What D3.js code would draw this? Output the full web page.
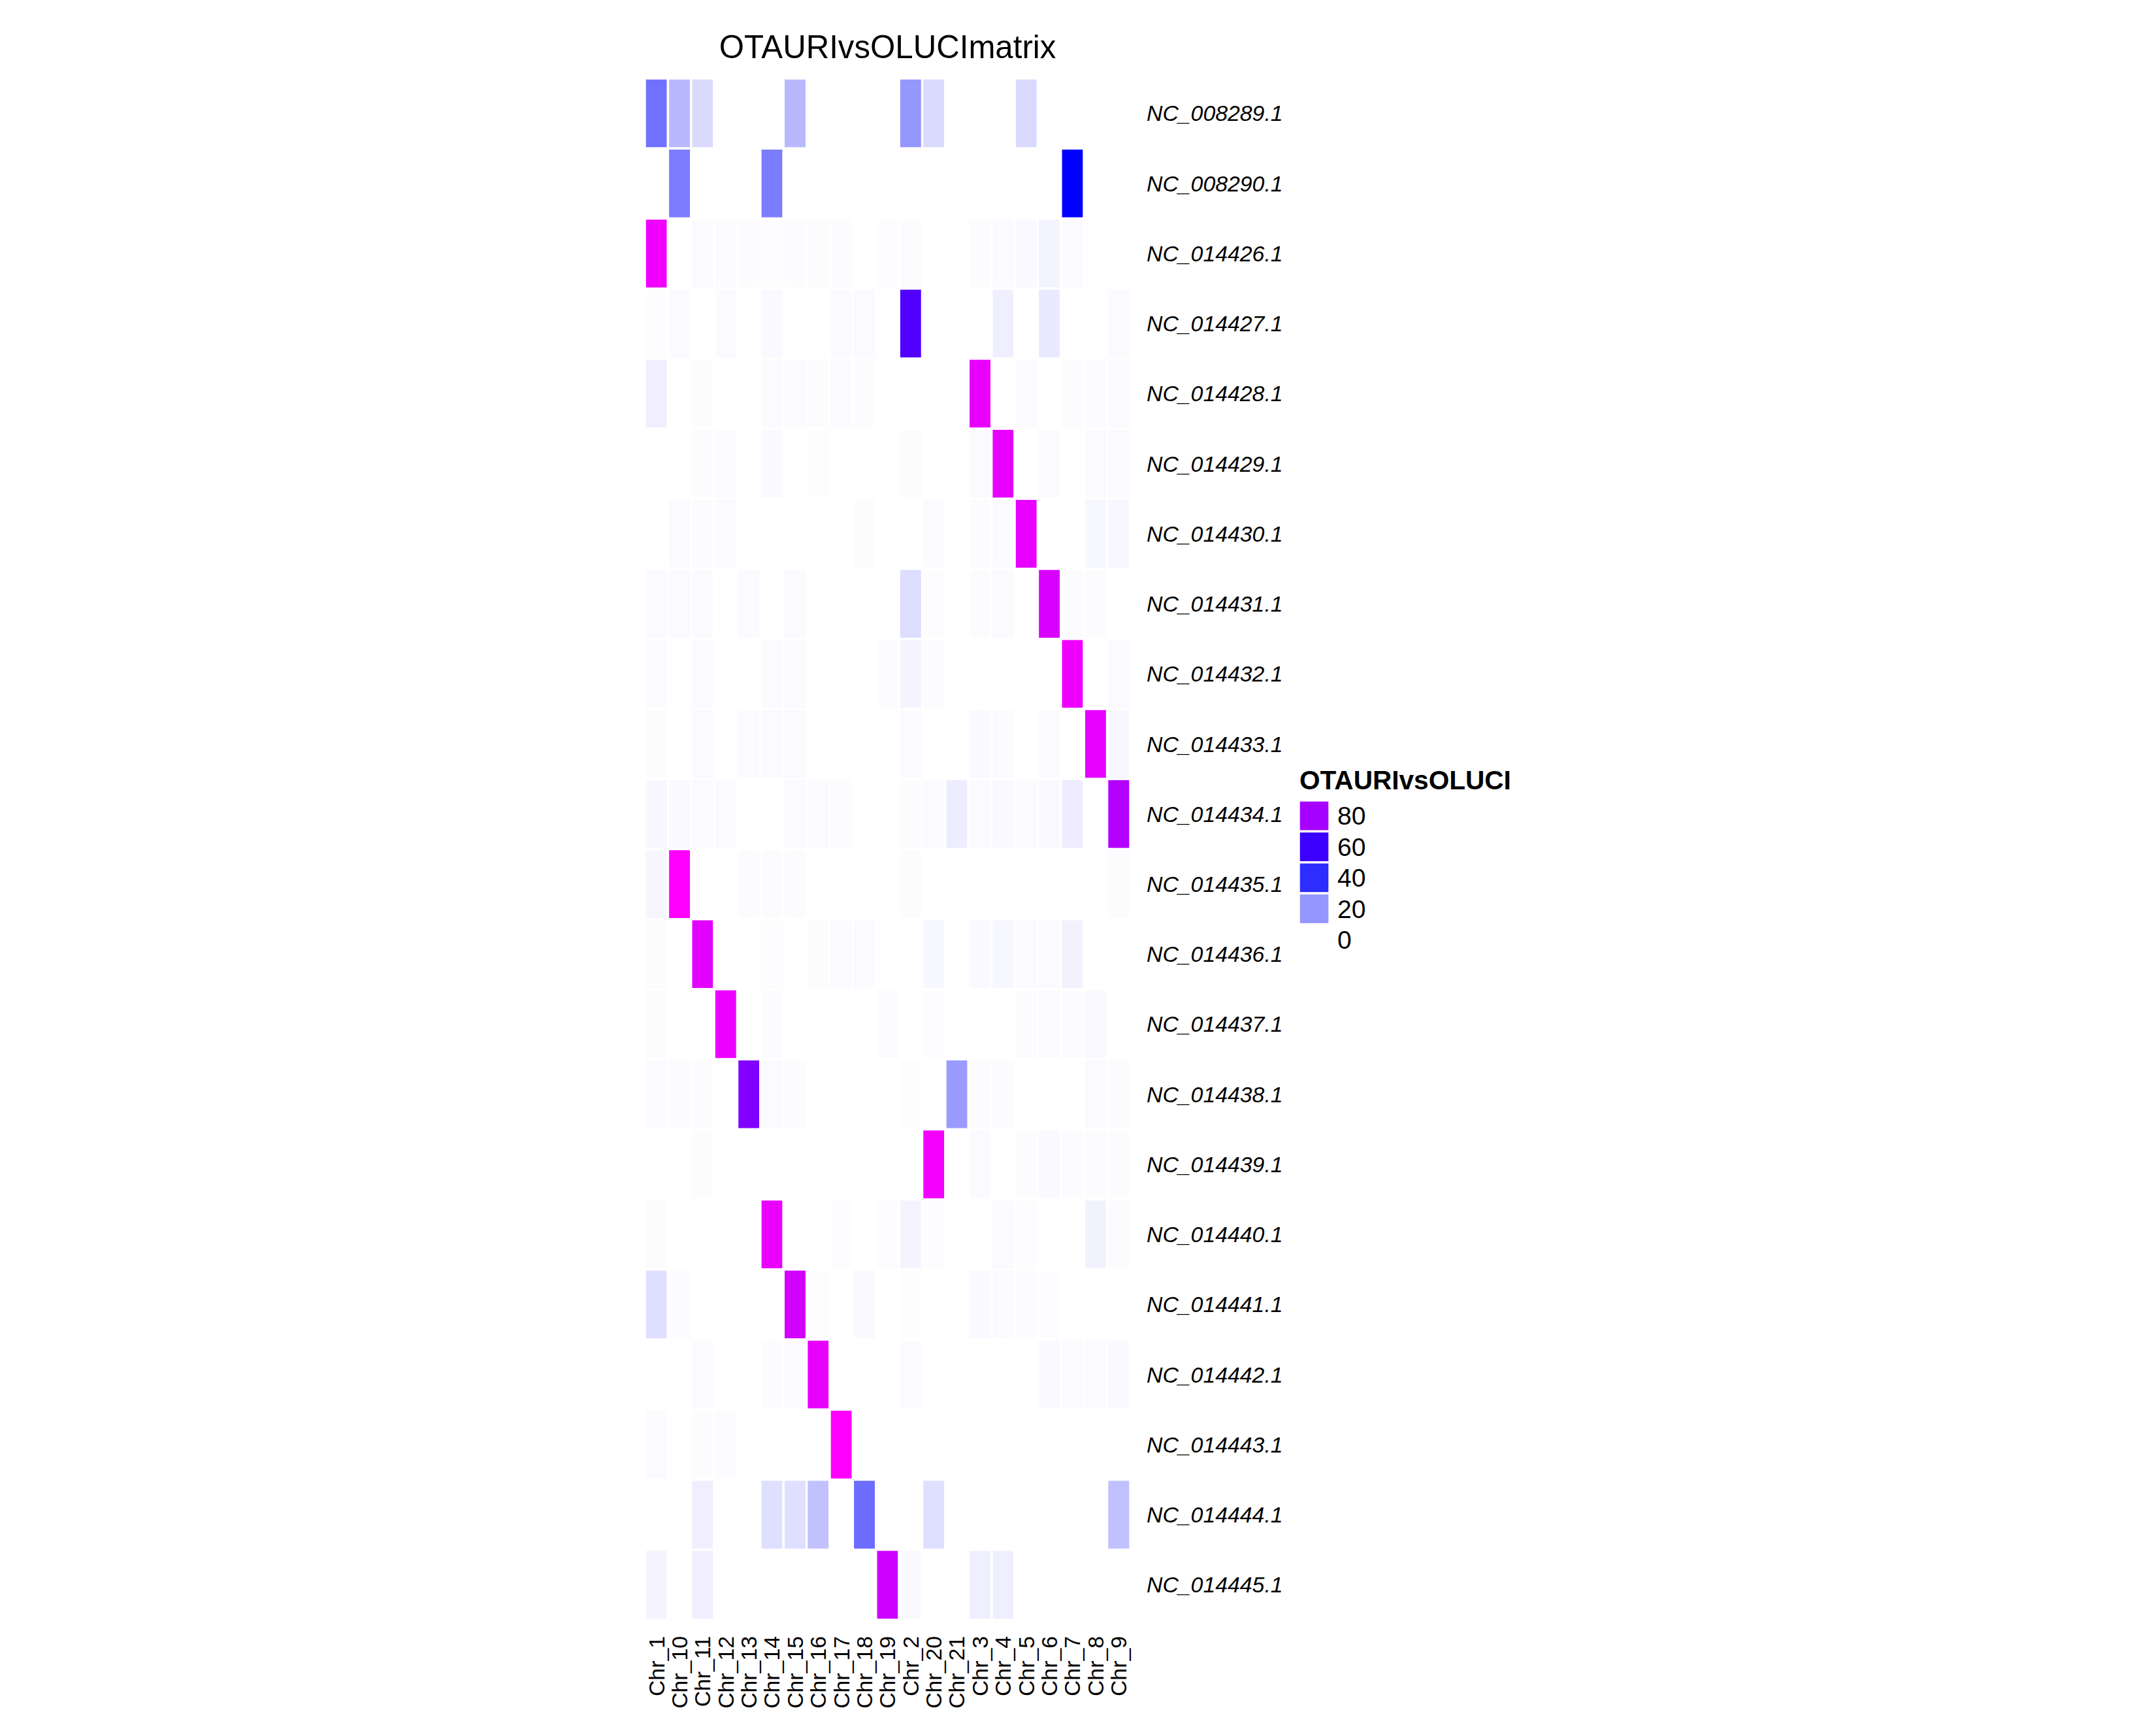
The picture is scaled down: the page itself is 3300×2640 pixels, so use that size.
<!DOCTYPE html>
<html>
<head>
<meta charset="utf-8">
<script src="https://cdn.jsdelivr.net/npm/d3@7"></script>
<style>
html,body{margin:0;padding:0;background:#fff;}
svg{display:block;}
</style>
</head>
<body>
<script>
// ---- data ----
const rows = ["NC_008289.1","NC_008290.1","NC_014426.1","NC_014427.1","NC_014428.1","NC_014429.1",
  "NC_014430.1","NC_014431.1","NC_014432.1","NC_014433.1","NC_014434.1","NC_014435.1","NC_014436.1",
  "NC_014437.1","NC_014438.1","NC_014439.1","NC_014440.1","NC_014441.1","NC_014442.1","NC_014443.1",
  "NC_014444.1","NC_014445.1"];
const cols = ["Chr_1","Chr_10","Chr_11","Chr_12","Chr_13","Chr_14","Chr_15","Chr_16","Chr_17","Chr_18",
  "Chr_19","Chr_2","Chr_20","Chr_21","Chr_3","Chr_4","Chr_5","Chr_6","Chr_7","Chr_8","Chr_9"];
// one array per row (NC_...), one value per column (Chr_...)
const values = [
  [27,13.5,7,0,0,0,13.5,0,0,0,0,20,7,0,0,0,7,0,0,0,0],
  [0,25,0,0,0,25,0,0,0,0,0,0,0,0,0,0,0,0,48.5,0,0],
  [94.5,0,1,0.5,0.5,0.3,0.5,0.5,0.5,0,0.3,0.5,0,0,0.5,0.8,1.2,2,0.8,0,0],
  [0.3,1,0,0.8,0,1.2,0,0,1,1,0,64,0,0,0,3,0,4,0,0,1],
  [3,0,0.5,0,0,0.8,1,0.5,0.8,0.6,0,0,0,0,92.5,0,0.8,0,0.5,0.5,0.8],
  [0,0,0.5,1,0,1.2,0,0.3,0,0,0,0.5,0,0,1,92.5,0,0.8,0,0.8,1],
  [0,1,0.5,1,0,0,0,0,0,0.5,0,0,0.8,0,0.5,0.8,92.5,0,0,1.5,1.5],
  [1,0.8,0.8,0,0.8,0,1,0,0,0,0,6.5,0.3,0,0.5,1,0,89.5,0.5,0.5,0],
  [0.8,0,1,0,0,0.8,1,0,0,0,0.5,2,0.5,0,0,0,0,0,94,0,1],
  [0.5,0,1,0,0.8,1,1,0,0,0,0,0.8,0,0,1.2,0.8,0,1,0,92.5,1.5],
  [1.5,1.2,1,0.8,0,0,1,0.8,0.6,0,0,0.6,1,3.5,1,1.2,1,1.2,3.5,0,82.5],
  [1.8,97,0,0,0.5,0.5,0.5,0,0,0,0,0.5,0,0,0,0,0,0,0,0,0.5],
  [0.5,0,91.5,0,0,0.4,0,0.6,0.8,0.8,0,0,1.5,0,1.2,1.5,0.8,0.8,2.5,0,0],
  [0.5,0,0,93.3,0,0.5,0,0,0,0,0.5,0,0.3,0,0,0,0.6,1,0.6,1.2,0],
  [1,0.6,0.6,0,73,1,0.6,0,0,0,0,0.4,0,19,0.5,0.5,0,0,0,1,0.6],
  [0,0,0.6,0,0,0,0,0,0,0,0,0,95,0,1,0,0.5,1.2,0.6,0.5,0.6],
  [0.6,0,0,0,0,93,0,0,0.4,0,0.4,2,0.3,0,0,1,0.3,0,0,2.5,0.5],
  [6,0.5,0,0,0,0,88.3,0.4,0,1.2,0,0.3,0,0,1.2,0.8,0.5,0.3,0,0,0],
  [0,0,1,0,0,0.5,1,92.6,0,0,0,0.8,0,0,0,0,0,1.2,1,1,1.2],
  [0.8,0,0.6,0.6,0,0,0,0,97,0,0,0,0,0,0,0,0,0,0,0,0],
  [0,0,3,0,0,6,6,11.7,0,28,0,0,6,0,0,0,0,0,0,0,11.7],
  [2,0,3,0,0,0,0,0,0,0,87.5,1.2,0,0,3,3,0,0,0,0,0]
];
const legendBreaks = [80,60,40,20,0];
const chartTitle = "OTAURIvsOLUCImatrix";
const legendTitle = "OTAURIvsOLUCI";

// ---- layout ----
const W = 3300, H = 2640;
const FONT = "'Liberation Sans', Arial, Helvetica, sans-serif";
const grid = {x0: 987, x1: 1730, y0: 120, y1: 2479};
const AXIS_FS = 33.8;

const svg = d3.select("body").append("svg")
  .attr("width", W).attr("height", H)
  .attr("viewBox", `0 0 ${W} ${H}`);
svg.append("rect").attr("width", W).attr("height", H).attr("fill", "#fff");

const x = d3.scaleBand().domain(cols).range([grid.x0, grid.x1]).padding(0);
const y = d3.scaleBand().domain(rows).range([grid.y0, grid.y1]).padding(0);
const color = d3.scaleLinear()
  .domain([0, 48.5, 97])
  .range(["#ffffff", "#0000ff", "#ff00ff"])
  .interpolate(d3.interpolateRgb)
  .clamp(true);

const cells = [];
rows.forEach((r, i) => cols.forEach((c, j) => cells.push({r, c, v: values[i][j]})));

svg.append("g").selectAll("rect").data(cells).join("rect")
  .attr("x", d => x(d.c))
  .attr("y", d => y(d.r))
  .attr("width", x.bandwidth())
  .attr("height", y.bandwidth())
  .attr("fill", d => color(d.v))
  .attr("stroke", "#fff")
  .attr("stroke-width", 3.4);

// title
svg.append("text")
  .attr("x", (grid.x0 + grid.x1) / 2)
  .attr("y", 89)
  .attr("text-anchor", "middle")
  .attr("font-family", FONT)
  .attr("font-size", 49.2)
  .attr("fill", "#000")
  .text(chartTitle);

// x axis (bottom, rotated labels)
const xAxis = svg.append("g")
  .attr("transform", `translate(0,${grid.y1})`)
  .call(d3.axisBottom(x).tickSize(0));
xAxis.select(".domain").remove();
xAxis.selectAll("text")
  .attr("font-family", FONT)
  .attr("font-size", AXIS_FS)
  .attr("fill", "#000")
  .attr("transform", "rotate(-90)")
  .attr("text-anchor", "end")
  .attr("x", -25)
  .attr("y", 0)
  .attr("dy", "0.35em");

// y axis (right side, italic)
const yAxis = svg.append("g")
  .attr("transform", `translate(${grid.x1},0)`)
  .call(d3.axisRight(y).tickSize(0).tickPadding(25));
yAxis.select(".domain").remove();
yAxis.selectAll("text")
  .attr("font-family", FONT)
  .attr("font-size", AXIS_FS)
  .attr("font-style", "italic")
  .attr("fill", "#000")
  .attr("dy", "0.35em");

// legend
const lg = svg.append("g");
lg.append("text")
  .attr("x", 1989).attr("y", 1208)
  .attr("font-family", FONT)
  .attr("font-size", 40.6)
  .attr("font-weight", "bold")
  .attr("fill", "#000")
  .text(legendTitle);
const keyY = d3.scaleBand().domain(legendBreaks).range([1225, 1462]).padding(0);
lg.selectAll("rect.key").data(legendBreaks).join("rect")
  .attr("class", "key")
  .attr("x", 1988)
  .attr("y", d => keyY(d))
  .attr("width", 47)
  .attr("height", keyY.bandwidth())
  .attr("fill", d => color(d))
  .attr("stroke", "#fff")
  .attr("stroke-width", 3.4);
lg.selectAll("text.lab").data(legendBreaks).join("text")
  .attr("class", "lab")
  .attr("x", 2047)
  .attr("y", d => keyY(d) + keyY.bandwidth() / 2)
  .attr("dy", "0.35em")
  .attr("font-family", FONT)
  .attr("font-size", 39)
  .attr("fill", "#000")
  .text(d => d);
</script>
</body>
</html>
